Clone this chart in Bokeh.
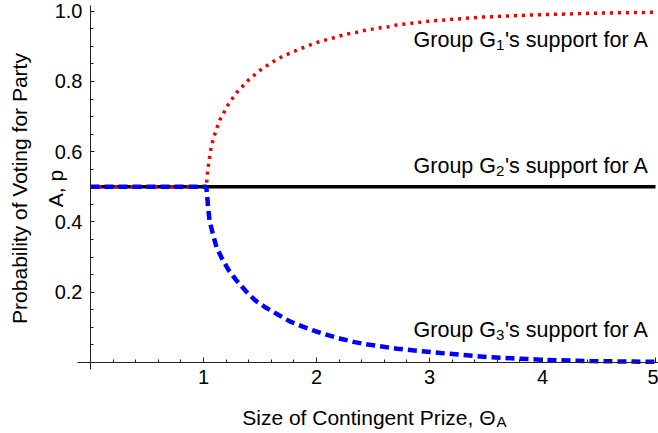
import numpy as np
from bokeh.plotting import figure
from bokeh.models import FixedTicker, Label, Range1d, NumeralTickFormatter
from bokeh.core.properties import value
from bokeh.embed import file_html
from bokeh.resources import INLINE

# ---------------- data ----------------
g2_x = [0.0, 5.0]
g2_y = [0.5, 0.5]

g1_x = [0.0, 1.025, 1.032, 1.038, 1.050, 1.059, 1.074, 1.094, 1.118, 1.145, 1.180,
        1.215, 1.257, 1.301, 1.351, 1.401, 1.463, 1.519, 1.581, 1.646, 1.711, 1.779,
        1.847, 1.914, 1.985, 2.056, 2.127, 2.201, 2.272, 2.345, 2.419, 2.493, 2.566,
        2.640, 2.714, 3.010, 3.450, 3.890, 4.420, 5.000]
g1_y = [0.5, 0.5, 0.527, 0.551, 0.574, 0.598, 0.621, 0.644, 0.667, 0.691, 0.711,
        0.732, 0.752, 0.771, 0.788, 0.805, 0.822, 0.836, 0.849, 0.862, 0.873, 0.882,
        0.892, 0.900, 0.909, 0.916, 0.922, 0.929, 0.935, 0.939, 0.945, 0.949, 0.953,
        0.956, 0.961, 0.972, 0.983, 0.989, 0.994, 0.997]

g3_x = [0.0, 1.025, 1.032, 1.041, 1.053, 1.083, 1.115, 1.165, 1.224, 1.298, 1.378,
        1.460, 1.558, 1.661, 1.764, 1.879, 1.991, 2.109, 2.221, 2.339, 2.454, 2.566,
        2.670, 2.714, 3.097, 3.540, 3.980, 4.420, 5.000]
g3_y = [0.5, 0.5, 0.475, 0.442, 0.404, 0.366, 0.328, 0.295, 0.262, 0.231, 0.202,
        0.176, 0.155, 0.136, 0.117, 0.102, 0.089, 0.077, 0.067, 0.058, 0.051, 0.046,
        0.041, 0.039, 0.027, 0.015, 0.008, 0.004, 0.002]

x_ticks = [1, 2, 3, 4, 5]
y_ticks = [0.2, 0.4, 0.6, 0.8, 1.0]
group_subs = ["1", "2", "3"]
x_label = "Size of Contingent Prize, \u0398"
x_label_sub = "A"
y_label_1 = "Probability of Voting for Party"
y_label_2 = "A, p"

# ---------------- layout helpers (canvas pixel -> data) ----------------
W, H = 658, 433
X0, SX = 90.0, 113.0      # pixel of x=0, pixels per x unit
Y0, SY = 362.0, 351.3     # pixel of y=0, pixels per y unit
BL = 8                    # baseline correction for text placement

def dx(px):
    return (px - X0) / SX

def dy(py):
    return (Y0 - py) / SY

FONT = "Liberation Sans"

p = figure(width=W, height=H,
           x_range=Range1d(dx(0), dx(W)), y_range=Range1d(dy(H), dy(0)),
           output_backend="svg", toolbar_location=None,
           min_border_left=0, min_border_right=0, min_border_top=0, min_border_bottom=0)
p.outline_line_color = None
p.xgrid.visible = False
p.ygrid.visible = False
p.background_fill_color = "white"
p.border_fill_color = "white"

x_minor = [round(i * 0.2, 1) for i in range(1, 26) if i % 5]
y_minor = [round(i * 0.05, 2) for i in range(1, 21) if i % 4]

p.xaxis.fixed_location = 0
p.yaxis.fixed_location = 0
p.xaxis.bounds = (dx(77), dx(W))
p.yaxis.bounds = (dy(369), dy(5))
p.xaxis.ticker = FixedTicker(ticks=x_ticks, minor_ticks=x_minor)
p.yaxis.ticker = FixedTicker(ticks=y_ticks, minor_ticks=y_minor)
p.xaxis.formatter = NumeralTickFormatter(format="0")
p.yaxis.formatter = NumeralTickFormatter(format="0.0")

for ax in (p.xaxis, p.yaxis):
    ax.axis_line_color = "#222222"
    ax.axis_line_width = 1
    ax.major_tick_line_color = "#222222"
    ax.minor_tick_line_color = "#222222"
    ax.major_tick_out = 0
    ax.minor_tick_out = 0
    ax.major_label_text_font = FONT
    ax.major_label_text_font_size = "20px"
    ax.major_label_text_color = "black"
p.xaxis.major_tick_in = 5
p.xaxis.minor_tick_in = 3
p.yaxis.major_tick_in = 4
p.yaxis.minor_tick_in = 3
p.xaxis.major_label_standoff = 7
p.yaxis.major_label_standoff = 8

# ---------------- curves ----------------
p.line(g2_x, g2_y, line_color="black", line_width=3.5)
p.line(g1_x, g1_y, line_color="#ee0000", line_width=3.5, line_dash="3 5")
p.line(g3_x, g3_y, line_color="#0000ff", line_width=4.5, line_dash="9 5")

# ---------------- group labels ----------------
anchor = dx(495.5)
baselines = [47, 173, 337]
for sub, bl in zip(group_subs, baselines):
    b = bl - BL
    p.text(x=[anchor], y=[dy(b)], text=["Group G"], text_align="right",
           text_baseline="alphabetic", text_font=value(FONT), text_font_size="21.5px",
           text_color="black")
    p.text(x=[anchor], y=[dy(b + 5)], text=[sub], text_align="left",
           text_baseline="alphabetic", text_font=value(FONT), text_font_size="15px",
           text_color="black")
    p.text(x=[anchor], y=[dy(b)], text=["'s support for A"], x_offset=9,
           text_align="left", text_baseline="alphabetic", text_font=value(FONT),
           text_font_size="21.5px", text_color="black")

# ---------------- axis titles ----------------
p.add_layout(Label(x=dx(495), y=dy(425 - BL), text=x_label, text_align="right",
                   text_baseline="alphabetic", text_font=FONT, text_font_size="21px",
                   text_color="black"))
p.add_layout(Label(x=dx(496), y=dy(429 - BL), text=x_label_sub, text_align="left",
                   text_baseline="alphabetic", text_font=FONT, text_font_size="15px",
                   text_color="black"))
p.add_layout(Label(x=dx(27 - BL), y=dy(188), text=y_label_1, angle=np.pi / 2,
                   text_align="center", text_baseline="alphabetic", text_font=FONT,
                   text_font_size="21px", text_color="black"))
p.add_layout(Label(x=dx(63 - BL), y=dy(188), text=y_label_2, angle=np.pi / 2,
                   text_align="center", text_baseline="alphabetic", text_font=FONT,
                   text_font_size="21px", text_color="black"))

open("out.html", "w").write(file_html(p, INLINE))
